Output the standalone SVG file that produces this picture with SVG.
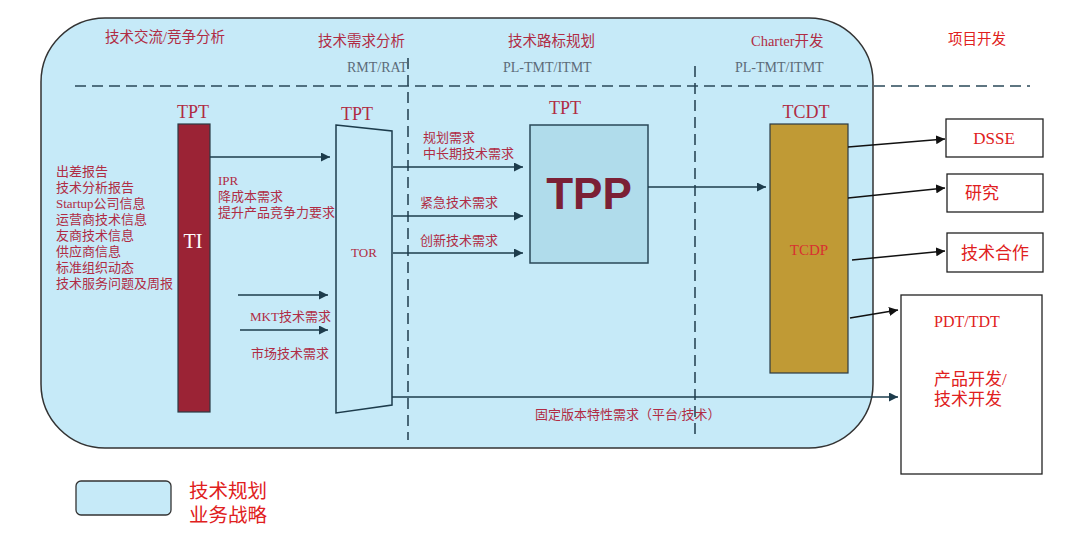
<svg xmlns="http://www.w3.org/2000/svg" width="1080" height="535" viewBox="0 0 1080 535">
<style>
.t{font-family:"Liberation Serif","Noto Sans CJK SC",serif;font-size:13px;fill:#b02c44}
.h{font-family:"Liberation Serif","Noto Sans CJK SC",serif;font-size:14.5px;fill:#b02c44}
.g{font-family:"Liberation Serif","Noto Sans CJK SC",serif;font-size:14px;fill:#5c6b78}
.r{font-family:"Liberation Serif","Noto Sans CJK SC",serif;font-size:17px;fill:#e02020}
.lbl{font-family:"Liberation Serif","Noto Sans CJK SC",serif;font-size:18px;fill:#b02c44}
.c{stroke:#1d3c4c;stroke-width:1.5;fill:none;marker-end:url(#a)}
.k{stroke:#111;stroke-width:1.5;fill:none;marker-end:url(#b)}
.d{stroke:#2a4858;stroke-width:1.6;stroke-dasharray:11 6;fill:none}
.box{fill:#fff;stroke:#222;stroke-width:1.3}
</style>
<defs>
<marker id="a" viewBox="0 0 10 10" refX="10" refY="5" markerWidth="9" markerHeight="9" markerUnits="userSpaceOnUse" orient="auto"><path d="M0,0L10,5L0,10z" fill="#1d3c4c"/></marker>
<marker id="b" viewBox="0 0 10 10" refX="10" refY="5" markerWidth="9" markerHeight="9" markerUnits="userSpaceOnUse" orient="auto"><path d="M0,0L10,5L0,10z" fill="#111"/></marker>
</defs>
<rect width="1080" height="535" fill="#fff"/>
<g id="strategy-area">
<rect x="41" y="18" width="832" height="430" rx="64" ry="64" fill="#c6eaf8" stroke="#333" stroke-width="1.5"/>
</g>
<g id="dividers">
<path class="d" d="M75,86H1030"/>
<path class="d" d="M408,58V440"/>
<path class="d" d="M695,66V440"/>
</g>
<g id="headers">
<text class="h" x="105" y="42">技术交流/竞争分析</text>
<text class="h" x="318" y="46">技术需求分析</text>
<text class="h" x="508" y="46">技术路标规划</text>
<text class="h" x="751" y="46">Charter开发</text>
<text class="h" x="948" y="44" style="fill:#e02020">项目开发</text>
<text class="g" x="347" y="72">RMT/RAT</text>
<text class="g" x="503" y="72">PL-TMT/ITMT</text>
<text class="g" x="735" y="72">PL-TMT/ITMT</text>
</g>
<g id="inputs">
<text class="t" x="56" y="176">出差报告</text>
<text class="t" x="56" y="192">技术分析报告</text>
<text class="t" x="56" y="208">Startup公司信息</text>
<text class="t" x="56" y="224">运营商技术信息</text>
<text class="t" x="56" y="240">友商技术信息</text>
<text class="t" x="56" y="256">供应商信息</text>
<text class="t" x="56" y="272">标准组织动态</text>
<text class="t" x="56" y="288">技术服务问题及周报</text>
</g>
<g id="TI">
<text class="lbl" x="193" y="118" text-anchor="middle">TPT</text>
<rect x="178" y="124" width="32" height="288" fill="#9b2335" stroke="#2a3a44" stroke-width="1.2"/>
<text x="193" y="248" text-anchor="middle" style="font-family:'Liberation Serif',serif;font-size:20px;fill:#fff">TI</text>
</g>
<g id="TOR">
<text class="lbl" x="357" y="120" text-anchor="middle">TPT</text>
<path d="M336,125L392,131V405L336,413z" fill="#c6eaf8" stroke="#1d3c4c" stroke-width="1.5"/>
<text class="t" x="364" y="257" text-anchor="middle">TOR</text>
</g>
<g id="TPP">
<text class="lbl" x="565" y="114" text-anchor="middle">TPT</text>
<rect x="530" y="125" width="118" height="138" fill="#b0dceb" stroke="#2a4858" stroke-width="1.5"/>
<text x="589" y="209" text-anchor="middle" style="font-family:'Liberation Sans',Arial,sans-serif;font-size:44px;font-weight:bold;fill:#7b2035">TPP</text>
</g>
<g id="TCDP">
<text class="lbl" x="806" y="118" text-anchor="middle">TCDT</text>
<rect x="770" y="124" width="78" height="249" fill="#c09a35" stroke="#2a3a44" stroke-width="1.2"/>
<text x="809" y="255" text-anchor="middle" style="font-family:'Liberation Serif',serif;font-size:15px;fill:#d83030">TCDP</text>
</g>
<g id="DSSE"><rect class="box" x="946" y="119" width="97" height="38"/><text class="r" x="994" y="144" text-anchor="middle">DSSE</text></g>
<g id="research"><rect class="box" x="947" y="174" width="96" height="38"/><text class="r" x="965" y="199">研究</text></g>
<g id="cooperation"><rect class="box" x="947" y="233" width="96" height="39"/><text class="r" x="995" y="259" text-anchor="middle">技术合作</text></g>
<g id="PDT">
<rect class="box" x="901" y="295" width="141" height="179"/>
<text class="r" x="934" y="327" style="font-size:16px">PDT/TDT</text>
<text class="r" x="934" y="385">产品开发/</text>
<text class="r" x="934" y="405">技术开发</text>
</g>
<g id="connectors">
<path class="c" d="M210,157H330"/>
<path class="c" d="M238,295H328"/>
<path class="c" d="M240,330H328"/>
<path class="c" d="M393,167H523"/>
<path class="c" d="M393,216H523"/>
<path class="c" d="M393,253H523"/>
<path class="c" d="M648,187H766"/>
<path class="c" d="M392,397H898"/>
<path class="k" d="M848,147L945,139"/>
<path class="k" d="M848,198L945,188"/>
<path class="k" d="M852,260L945,251"/>
<path class="k" d="M850,318L898,310"/>
<text class="t" x="218" y="185">IPR</text>
<text class="t" x="218" y="201">降成本需求</text>
<text class="t" x="218" y="217">提升产品竞争力要求</text>
<text class="t" x="250" y="321">MKT技术需求</text>
<text class="t" x="251" y="358">市场技术需求</text>
<text class="t" x="423" y="142">规划需求</text>
<text class="t" x="423" y="158">中长期技术需求</text>
<text class="t" x="420" y="207">紧急技术需求</text>
<text class="t" x="420" y="245">创新技术需求</text>
<text class="t" x="535" y="419">固定版本特性需求（平台/技术）</text>
</g>
<g id="legend">
<rect x="76" y="481" width="95" height="34" rx="5" fill="#c6eaf8" stroke="#333" stroke-width="1.3"/>
<text class="r" x="189" y="498" style="font-size:19.5px">技术规划</text>
<text class="r" x="189" y="522" style="font-size:19.5px">业务战略</text>
</g>
</svg>
